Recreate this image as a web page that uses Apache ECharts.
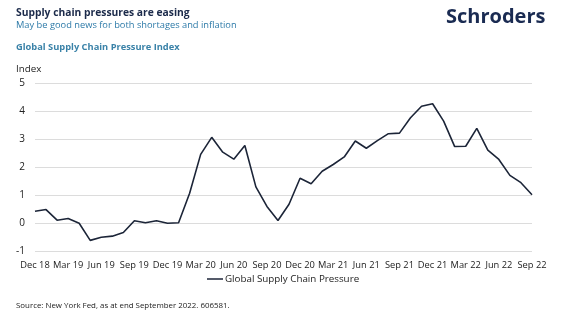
<!DOCTYPE html>
<html><head><meta charset="utf-8">
<script src="https://cdn.jsdelivr.net/npm/echarts@6/dist/echarts.min.js"></script>
<style>html,body{margin:0;padding:0;background:#fff}#c{width:571px;height:322px}</style>
</head><body><div id="c"></div>
<script>
const months = ['Jan','Feb','Mar','Apr','May','Jun','Jul','Aug','Sep','Oct','Nov','Dec'];
const categories = ['Dec 18'];
for (let y = 19; y <= 22; y++) {
  for (let m = 0; m < 12; m++) {
    if (y === 22 && m > 8) break;
    categories.push(months[m] + ' ' + y);
  }
}
const seriesName = 'Global Supply Chain Pressure';
const values = [
  0.42,
  0.48, 0.10, 0.16, -0.01, -0.62, -0.51, -0.47, -0.34, 0.08, 0.01, 0.08, -0.01,
  0.01, 1.06, 2.45, 3.06, 2.53, 2.28, 2.77, 1.29, 0.59, 0.09, 0.67, 1.60,
  1.40, 1.85, 2.09, 2.36, 2.93, 2.67, 2.94, 3.19, 3.21, 3.76, 4.17, 4.26,
  3.64, 2.73, 2.74, 3.38, 2.60, 2.27, 1.70, 1.44, 1.01
];
const yTicks = [-1, 0, 1, 2, 3, 4, 5];

const ff = '"Open Sans", "Noto Sans", sans-serif';
const chart = echarts.init(document.getElementById('c'), null, {renderer: 'canvas'});
chart.setOption({
  animation: false,
  textStyle: {fontFamily: ff},
  title: [
    {text: 'Supply chain pressures are easing', left: 16, top: 8.5, padding: 0,
     textStyle: {fontFamily: ff, fontSize: 10.3, fontWeight: 'bold', color: '#1b2a4a'}},
    {text: 'May be good news for both shortages and inflation', left: 16, top: 21, padding: 0,
     textStyle: {fontFamily: ff, fontSize: 9.3, fontWeight: 'normal', color: '#2d7aa8'}},
    {text: 'Global Supply Chain Pressure Index', left: 16, top: 42.5, padding: 0,
     textStyle: {fontFamily: ff, fontSize: 9.3, fontWeight: 'bold', color: '#3a82a8'}},
    {text: 'Schroders', left: 446, top: 7, padding: 0,
     textStyle: {fontFamily: ff, fontSize: 20, fontWeight: 'bold', color: '#1a2b52'}},
    {text: 'Index', left: 16, top: 64.5, padding: 0,
     textStyle: {fontFamily: ff, fontSize: 9.8, fontWeight: 'normal', color: '#222'}},
    {text: 'Source: New York Fed, as at end September 2022. 606581.', left: 16, top: 302, padding: 0,
     textStyle: {fontFamily: ff, fontSize: 7.9, fontWeight: 'normal', color: '#222'}}
  ],
  legend: {
    data: [seriesName], left: 207, top: 274, padding: 0,
    icon: 'rect', itemWidth: 16, itemHeight: 1.5, itemGap: 4,
    textStyle: {fontFamily: ff, fontSize: 9.8, color: '#222', padding: [0,0,0,-3]}
  },
  grid: {left: 35, right: 39, top: 83, bottom: 71, containLabel: false},
  xAxis: {
    type: 'category', data: categories, boundaryGap: false,
    axisLine: {show: false}, axisTick: {show: false},
    axisLabel: {interval: 2, fontSize: 9.3, color: '#222', margin: 10, fontFamily: ff,
                showMinLabel: true, showMaxLabel: true, hideOverlap: false}
  },
  yAxis: {
    type: 'value', min: yTicks[0], max: yTicks[yTicks.length - 1], interval: 1,
    axisLine: {show: false}, axisTick: {show: false},
    axisLabel: {fontSize: 10, color: '#222', margin: 10, fontFamily: ff},
    splitLine: {lineStyle: {color: '#dcdcdc', width: 1}}
  },
  series: [{
    name: seriesName, type: 'line', data: values, symbol: 'none',
    lineStyle: {color: '#1c2538', width: 1.6}, itemStyle: {color: '#1c2538'}
  }]
});
</script></body></html>
